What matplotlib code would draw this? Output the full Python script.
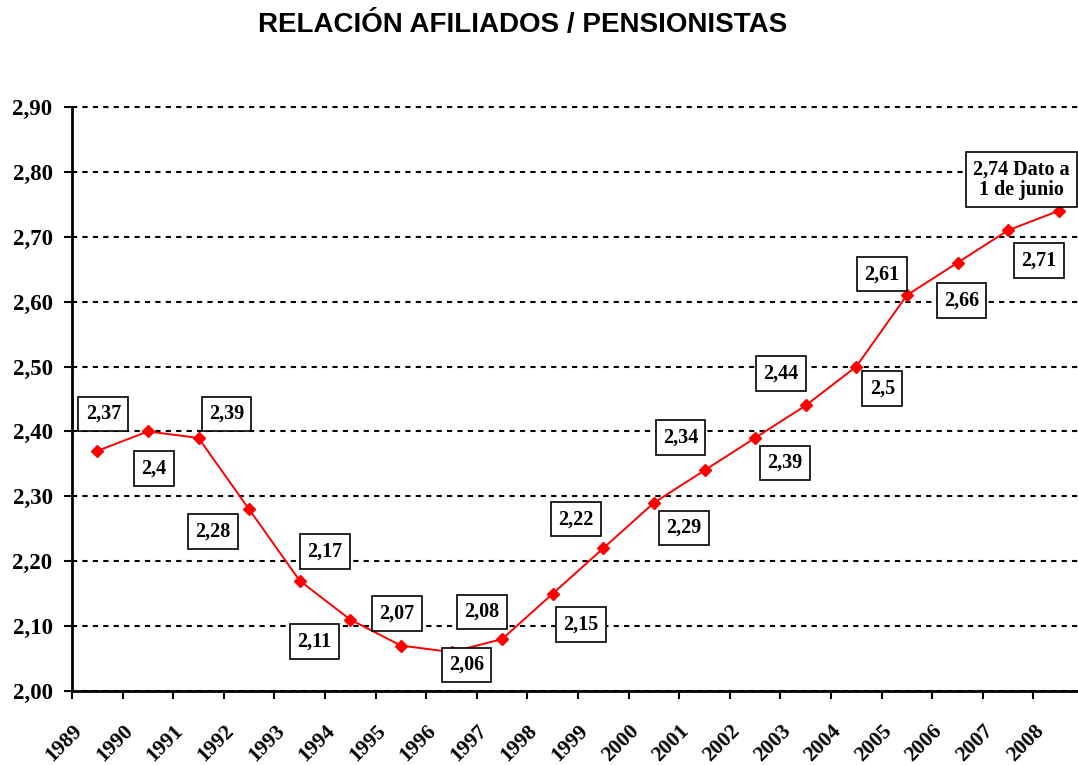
import matplotlib.pyplot as plt
from matplotlib.ticker import FixedLocator, FuncFormatter
import matplotlib.transforms as mtransforms

years = ['1989', '1990', '1991', '1992', '1993', '1994', '1995', '1996', '1997', '1998',
         '1999', '2000', '2001', '2002', '2003', '2004', '2005', '2006', '2007', '2008']
ratio = [2.37, 2.40, 2.39, 2.28, 2.17, 2.11, 2.07, 2.06, 2.08, 2.15,
         2.22, 2.29, 2.34, 2.39, 2.44, 2.50, 2.61, 2.66, 2.71, 2.74]
point_labels = ['2,37', '2,4', '2,39', '2,28', '2,17', '2,11', '2,07', '2,06', '2,08', '2,15',
                '2,22', '2,29', '2,34', '2,39', '2,44', '2,5', '2,61', '2,66', '2,71',
                '2,74 Dato a\n1 de junio']

# where each label box sits relative to its point (pixels, x right / y up)
label_offsets = [(6, 37), (6, -37), (28, 24), (-36, -22), (25, 29), (-36, -22), (-4, 32),
                 (15, -13), (-20, 27), (28, -31), (-27, 29), (30, -25), (-24, 33), (30, -25),
                 (-25, 32), (26, -22), (-25, 21), (4, -38), (31, -30), (-37, 31)]

serif = 'Liberation Serif'
plt.rcParams['font.family'] = serif
plt.rcParams['font.weight'] = 'bold'

fig = plt.figure(figsize=(10.78, 7.65), dpi=100)
ax = fig.add_axes([72 / 1078, 1 - 691 / 765, 1012 / 1078, 584 / 765])

x = list(range(len(years)))
ax.plot(x, ratio, color='#ff0000', lw=1.4, marker='D', markersize=6.5,
        markerfacecolor='#ff0000', markeredgecolor='#ff0000', zorder=3)

for i in x:
    dx, dy = label_offsets[i]
    ax.annotate(point_labels[i], (i, ratio[i]), xytext=(dx * 0.72, dy * 0.72),
                textcoords='offset points', ha='center', va='center',
                fontsize=14.5, fontweight='bold', linespacing=1.05,
                bbox=dict(boxstyle='square,pad=0.36', fc='white', ec='black', lw=1.2),
                zorder=4)

ax.set_xlim(-0.5, 19.5)
ax.set_ylim(2.0, 2.9)

ax.yaxis.set_major_locator(FixedLocator([2.0 + 0.1 * k for k in range(10)]))
ax.yaxis.set_major_formatter(FuncFormatter(lambda v, p: ('%.2f' % v).replace('.', ',')))
ax.grid(axis='y', color='black', linestyle=(0, (2.5, 2.5)), lw=1.5, zorder=1)
for line in ax.get_ygridlines():
    line.set_clip_on(False)

ax.set_xticks(x)
ax.set_xticklabels(years, rotation=45, ha='right', va='center', rotation_mode='anchor')
ax.set_xticks([k - 0.5 for k in range(len(years) + 1)], minor=True)
ax.tick_params(axis='x', which='major', length=0, pad=0, labelsize=15.5)
ax.tick_params(axis='x', which='minor', length=6, width=1.5, direction='out')
ax.tick_params(axis='y', length=6, width=1.5, direction='out', pad=8, labelsize=16.5)

shift = mtransforms.ScaledTranslation(-18 / 100, -37 / 100, fig.dpi_scale_trans)
for lab in ax.get_xticklabels():
    lab.set_transform(lab.get_transform() + shift)

for side in ['top', 'right']:
    ax.spines[side].set_visible(False)
for side in ['left', 'bottom']:
    ax.spines[side].set_linewidth(2)

fig.text(523 / 1078, 1 - 25 / 765, 'RELACIÓN AFILIADOS / PENSIONISTAS', ha='center', va='center',
         fontsize=20, fontweight='bold', family='Liberation Sans')

plt.savefig('out.png', dpi=100)
